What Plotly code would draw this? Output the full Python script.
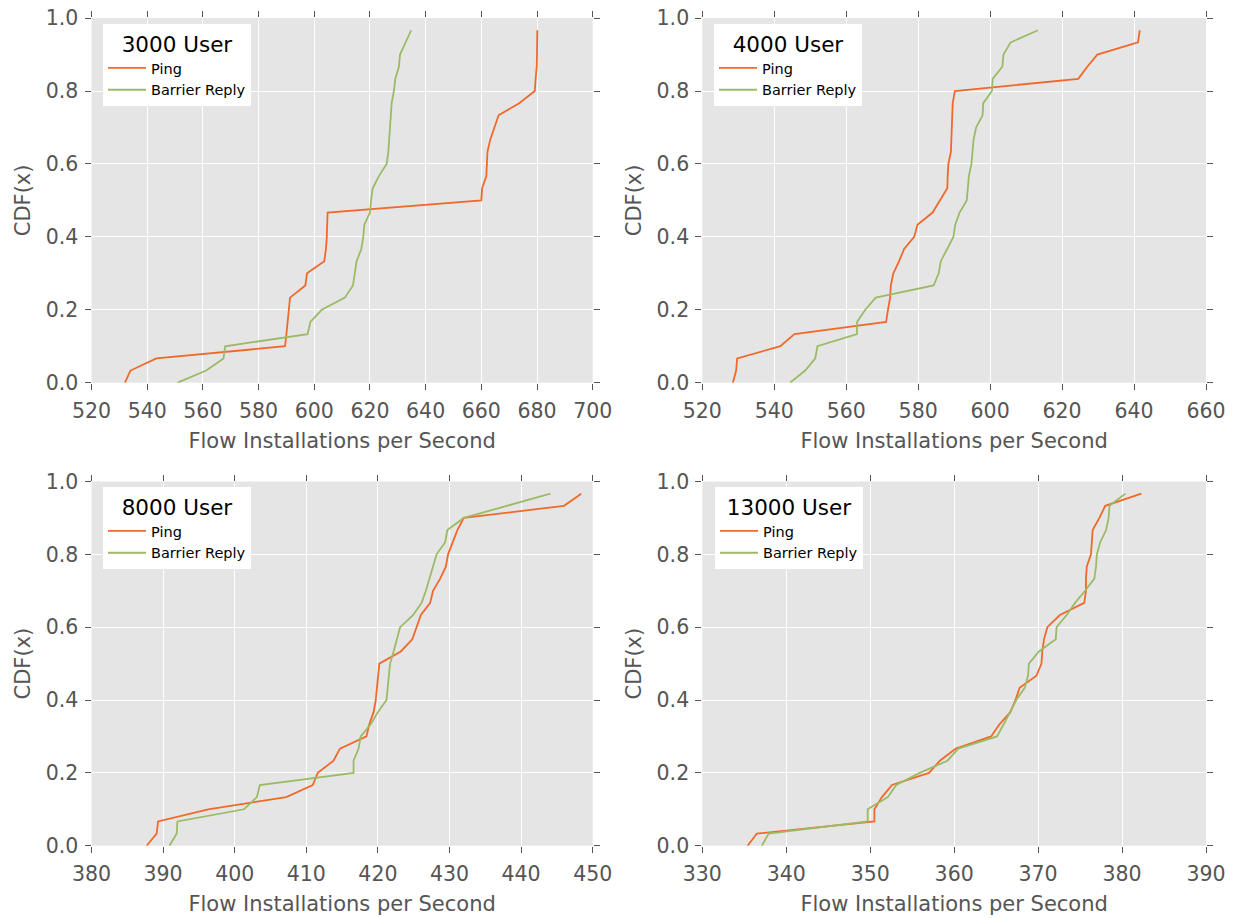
import plotly.graph_objects as go

# CDF levels (30 samples each)
cdf = [i / 30 for i in range(30)]

# ---- 3000 User ----
ping_3000 = [532.0, 534.0, 543.3, 589.5, 590.0, 590.4, 590.8, 591.3, 596.8, 597.4,
             603.6, 604.2, 604.5, 604.6, 604.8, 660.0, 660.3, 661.8, 662.1, 662.2,
             663.2, 664.6, 666.2, 673.6, 679.2, 679.5, 679.9, 680.0, 680.0, 680.1]
barrier_3000 = [550.9, 561.2, 567.4, 568.0, 597.6, 598.6, 602.7, 611.0, 613.9, 614.5,
                615.2, 616.9, 617.6, 618.0, 620.0, 620.4, 621.0, 623.2, 626.0, 626.6,
                626.8, 627.2, 627.5, 627.8, 628.6, 629.1, 630.4, 630.8, 632.8, 634.8]

# ---- 4000 User ----
ping_4000 = [528.5, 529.4, 529.7, 541.7, 545.6, 571.1, 571.6, 572.2, 572.4, 573.1,
             574.7, 576.1, 578.9, 579.8, 584.0, 586.1, 588.1, 588.2, 588.4, 589.1,
             589.2, 589.3, 589.4, 589.6, 590.2, 624.5, 627.0, 629.8, 641.1, 641.6]
barrier_4000 = [544.4, 548.6, 551.4, 552.0, 563.0, 563.0, 565.3, 568.2, 584.3, 585.7,
                586.3, 588.1, 589.8, 590.3, 591.5, 593.5, 593.7, 594.1, 594.8, 595.1,
                595.4, 596.1, 597.9, 598.1, 600.5, 600.7, 603.4, 603.7, 605.7, 613.3]

# ---- 8000 User ----
ping_8000 = [387.7, 389.1, 389.3, 396.3, 407.2, 410.9, 411.6, 413.8, 414.7, 418.4,
             418.8, 419.4, 419.7, 419.9, 420.1, 420.2, 423.2, 424.8, 425.4, 426.0,
             427.3, 427.7, 428.7, 429.5, 429.8, 430.4, 431.1, 432.0, 446.0, 448.4]
barrier_8000 = [390.9, 391.9, 392.0, 401.3, 403.1, 403.5, 416.6, 416.6, 417.3, 417.6,
                419.0, 420.0, 421.2, 421.4, 421.6, 421.7, 422.2, 422.6, 423.1, 424.9,
                426.1, 426.7, 427.2, 427.6, 428.2, 429.4, 429.7, 432.0, 438.1, 444.1]

# ---- 13000 User ----
ping_13000 = [335.4, 336.5, 350.5, 350.5, 351.4, 352.6, 357.0, 358.3, 360.2, 364.4,
              365.4, 366.7, 367.3, 367.8, 369.8, 370.4, 370.5, 370.7, 371.1, 372.6,
              375.5, 375.7, 375.7, 375.8, 376.3, 376.4, 376.5, 377.3, 378.0, 382.3]
barrier_13000 = [337.1, 337.9, 349.7, 349.7, 352.1, 353.1, 355.9, 359.2, 360.5, 365.1,
                 365.9, 366.7, 367.4, 368.4, 368.8, 368.9, 370.1, 372.1, 372.2, 373.4,
                 374.4, 375.6, 376.7, 376.9, 377.0, 377.4, 378.1, 378.4, 378.5, 380.4]

titles = ["3000 User", "4000 User", "8000 User", "13000 User"]
series = [(ping_3000, barrier_3000), (ping_4000, barrier_4000),
          (ping_8000, barrier_8000), (ping_13000, barrier_13000)]
x_ranges = [(520, 700), (520, 660), (380, 450), (330, 390)]
x_dticks = [20, 20, 10, 10]

ORANGE = "#F0692A"
GREEN = "#9CBA66"
FONT = "DejaVu Sans"
TXT = "#555555"

W, H = 1239, 918
x_domains = [(91.5 / W, 592.7 / W), (702.3 / W, 1206 / W)]
y_domains = [(1 - 382.7 / H, 1 - 18.1 / H), (1 - 845.7 / H, 1 - 481.5 / H)]
legend_pos = [(103 / W, 1 - 24 / H), (714 / W, 1 - 24 / H),
              (103 / W, 1 - 487 / H), (715 / W, 1 - 487 / H)]

fig = go.Figure()

for k in range(4):
    r, c = divmod(k, 2)
    sfx = "" if k == 0 else str(k + 1)
    leg = "legend" if k == 0 else f"legend{k + 1}"
    p, b = series[k]
    fig.add_trace(go.Scatter(x=p, y=cdf, mode="lines", name="Ping",
                             line=dict(color=ORANGE, width=1.8),
                             xaxis="x" + sfx, yaxis="y" + sfx, legend=leg))
    fig.add_trace(go.Scatter(x=b, y=cdf, mode="lines", name="Barrier Reply",
                             line=dict(color=GREEN, width=1.8),
                             xaxis="x" + sfx, yaxis="y" + sfx, legend=leg))

    axis_common = dict(
        showgrid=True, gridcolor="white", gridwidth=1.2,
        zeroline=False, showline=False, mirror="ticks",
        ticks="outside", ticklen=6, tickwidth=1, tickcolor=TXT,
        tickfont=dict(family=FONT, size=20.5, color=TXT),
        automargin=False,
    )
    fig.update_layout(**{
        "xaxis" + sfx: dict(
            domain=x_domains[c], anchor="y" + sfx,
            range=list(x_ranges[k]), dtick=x_dticks[k], tick0=0,
            ticklabelstandoff=4,
            title=dict(text="Flow Installations per Second",
                       font=dict(family=FONT, size=21, color=TXT), standoff=11),
            **axis_common),
        "yaxis" + sfx: dict(
            domain=y_domains[r], anchor="x" + sfx,
            range=[0, 1.0], dtick=0.2, tickformat=".1f",
            ticklabelstandoff=2,
            title=dict(text="CDF(x)",
                       font=dict(family=FONT, size=21, color=TXT), standoff=9),
            **axis_common),
        leg: dict(
            x=legend_pos[k][0], y=legend_pos[k][1],
            xanchor="left", yanchor="top",
            bgcolor="white", borderwidth=0,
            font=dict(family=FONT, size=14.5, color="black"),
            title=dict(text=titles[k], side="top center",
                       font=dict(family=FONT, size=21.5, color="black")),
            itemwidth=38, tracegroupgap=0,
        ),
    })

fig.update_layout(
    width=W, height=H, autosize=False,
    margin=dict(l=0, r=0, t=0, b=0),
    paper_bgcolor="white", plot_bgcolor="#E5E5E5",
    font=dict(family=FONT, color=TXT),
    showlegend=True,
)

fig.write_html("out.html")
